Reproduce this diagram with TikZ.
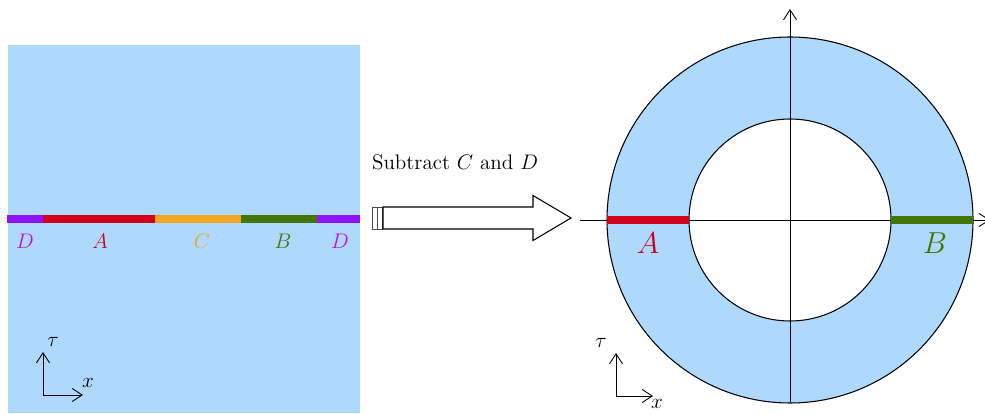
\documentclass[tikz,border=0pt]{standalone}
\usepackage{tikz}
\usetikzlibrary{arrows.meta}

\definecolor{skyfill}{RGB}{174,216,252}
\definecolor{segpurple}{HTML}{9013FE}
\definecolor{labpurple}{HTML}{BD10E0}
\definecolor{segred}{HTML}{D0021B}
\definecolor{segorange}{HTML}{F5A623}
\definecolor{seggreen}{HTML}{417505}

\tikzset{
  seg/.style={line width=5pt},
  axis/.style={-{Straight Barb[length=2mm, width=2.6mm]}, line width=0.5pt},
}

\begin{document}
\begin{tikzpicture}[font=\large, line width=0.6pt]
  \useasboundingbox (0,0) rectangle (19.7,8.26);

  % Strip (left panel)
  \fill[skyfill] (0.16,0) rectangle (7.2,7.36);
  \coordinate (p0) at (0.14,3.88);
  \coordinate (p1) at (0.86,3.88);
  \coordinate (p2) at (3.1,3.88);
  \coordinate (p3) at (4.82,3.88);
  \coordinate (p4) at (6.34,3.88);
  \coordinate (p5) at (7.2,3.88);
  \draw[seg, segpurple] (p0) -- (p1);
  \draw[seg, segred]    (p1) -- (p2);
  \draw[seg, segorange] (p2) -- (p3);
  \draw[seg, seggreen]  (p3) -- (p4);
  \draw[seg, segpurple] (p4) -- (p5);
  \node[labpurple] (dl) at (0.5,3.44)  {$D$};
  \node[segred]    (al) at (2.0,3.44)  {$A$};
  \node[segorange] (cl) at (4.04,3.44) {$C$};
  \node[seggreen]  (bl) at (5.66,3.44) {$B$};
  \node[labpurple] (dr) at (6.8,3.44)  {$D$};

  % Small axes (left)
  \coordinate (o1) at (0.86,0.36);
  \coordinate (t1) at (0.86,1.22);
  \coordinate (x1) at (1.66,0.36);
  \draw[axis] (o1) -- (t1);
  \draw[axis] (o1) -- (x1);
  \node (tau1) at (1.06,1.42) {$\tau$};
  \node (xl1) at (1.76,0.6) {$x$};

  % Big arrow
  \node (subtract) at (9.1,5.02) {Subtract $C$ and $D$};
  \draw[black!70, line width=0.5pt] (7.44,3.68) rectangle (7.54,4.12);
  \draw[black!70, line width=0.5pt] (7.54,3.68) rectangle (7.64,4.12);
  \draw[fill=white]
    (7.66,3.68) -- (10.66,3.68) -- (10.66,3.45) -- (11.42,3.9)
    -- (10.66,4.35) -- (10.66,4.12) -- (7.66,4.12) -- cycle;

  % Annulus (right panel)
  \coordinate (c) at (15.8,3.86);
  \fill[skyfill, even odd rule] (c) circle (3.66) (c) circle (2.02);
  \draw (c) circle (3.66);
  \draw (c) circle (2.02);
  \coordinate (ya) at (15.8,0.22);
  \coordinate (yb) at (15.8,8.08);
  \coordinate (xa) at (11.6,3.86);
  \coordinate (xb) at (19.8,3.86);
  \draw[axis] (ya) -- (yb);
  \draw[axis] (xa) -- (xb);
  \coordinate (q1) at (12.14,3.86);
  \coordinate (q2) at (13.78,3.86);
  \coordinate (q3) at (17.82,3.86);
  \coordinate (q4) at (19.46,3.86);
  \draw[seg, segred]   (q1) -- (q2);
  \draw[seg, seggreen] (q3) -- (q4);
  \node[segred, font=\LARGE]   (ar) at (12.96,3.4) {$A$};
  \node[seggreen, font=\LARGE] (br) at (18.7,3.4)  {$B$};

  % Small axes (right)
  \coordinate (o2) at (12.32,0.34);
  \coordinate (t2) at (12.32,1.2);
  \coordinate (x2) at (13.06,0.34);
  \draw[axis] (o2) -- (t2);
  \draw[axis] (o2) -- (x2);
  \node (tau2) at (12.02,1.4) {$\tau$};
  \node (xl2) at (13.14,0.18) {$x$};

\end{tikzpicture}
\end{document}
